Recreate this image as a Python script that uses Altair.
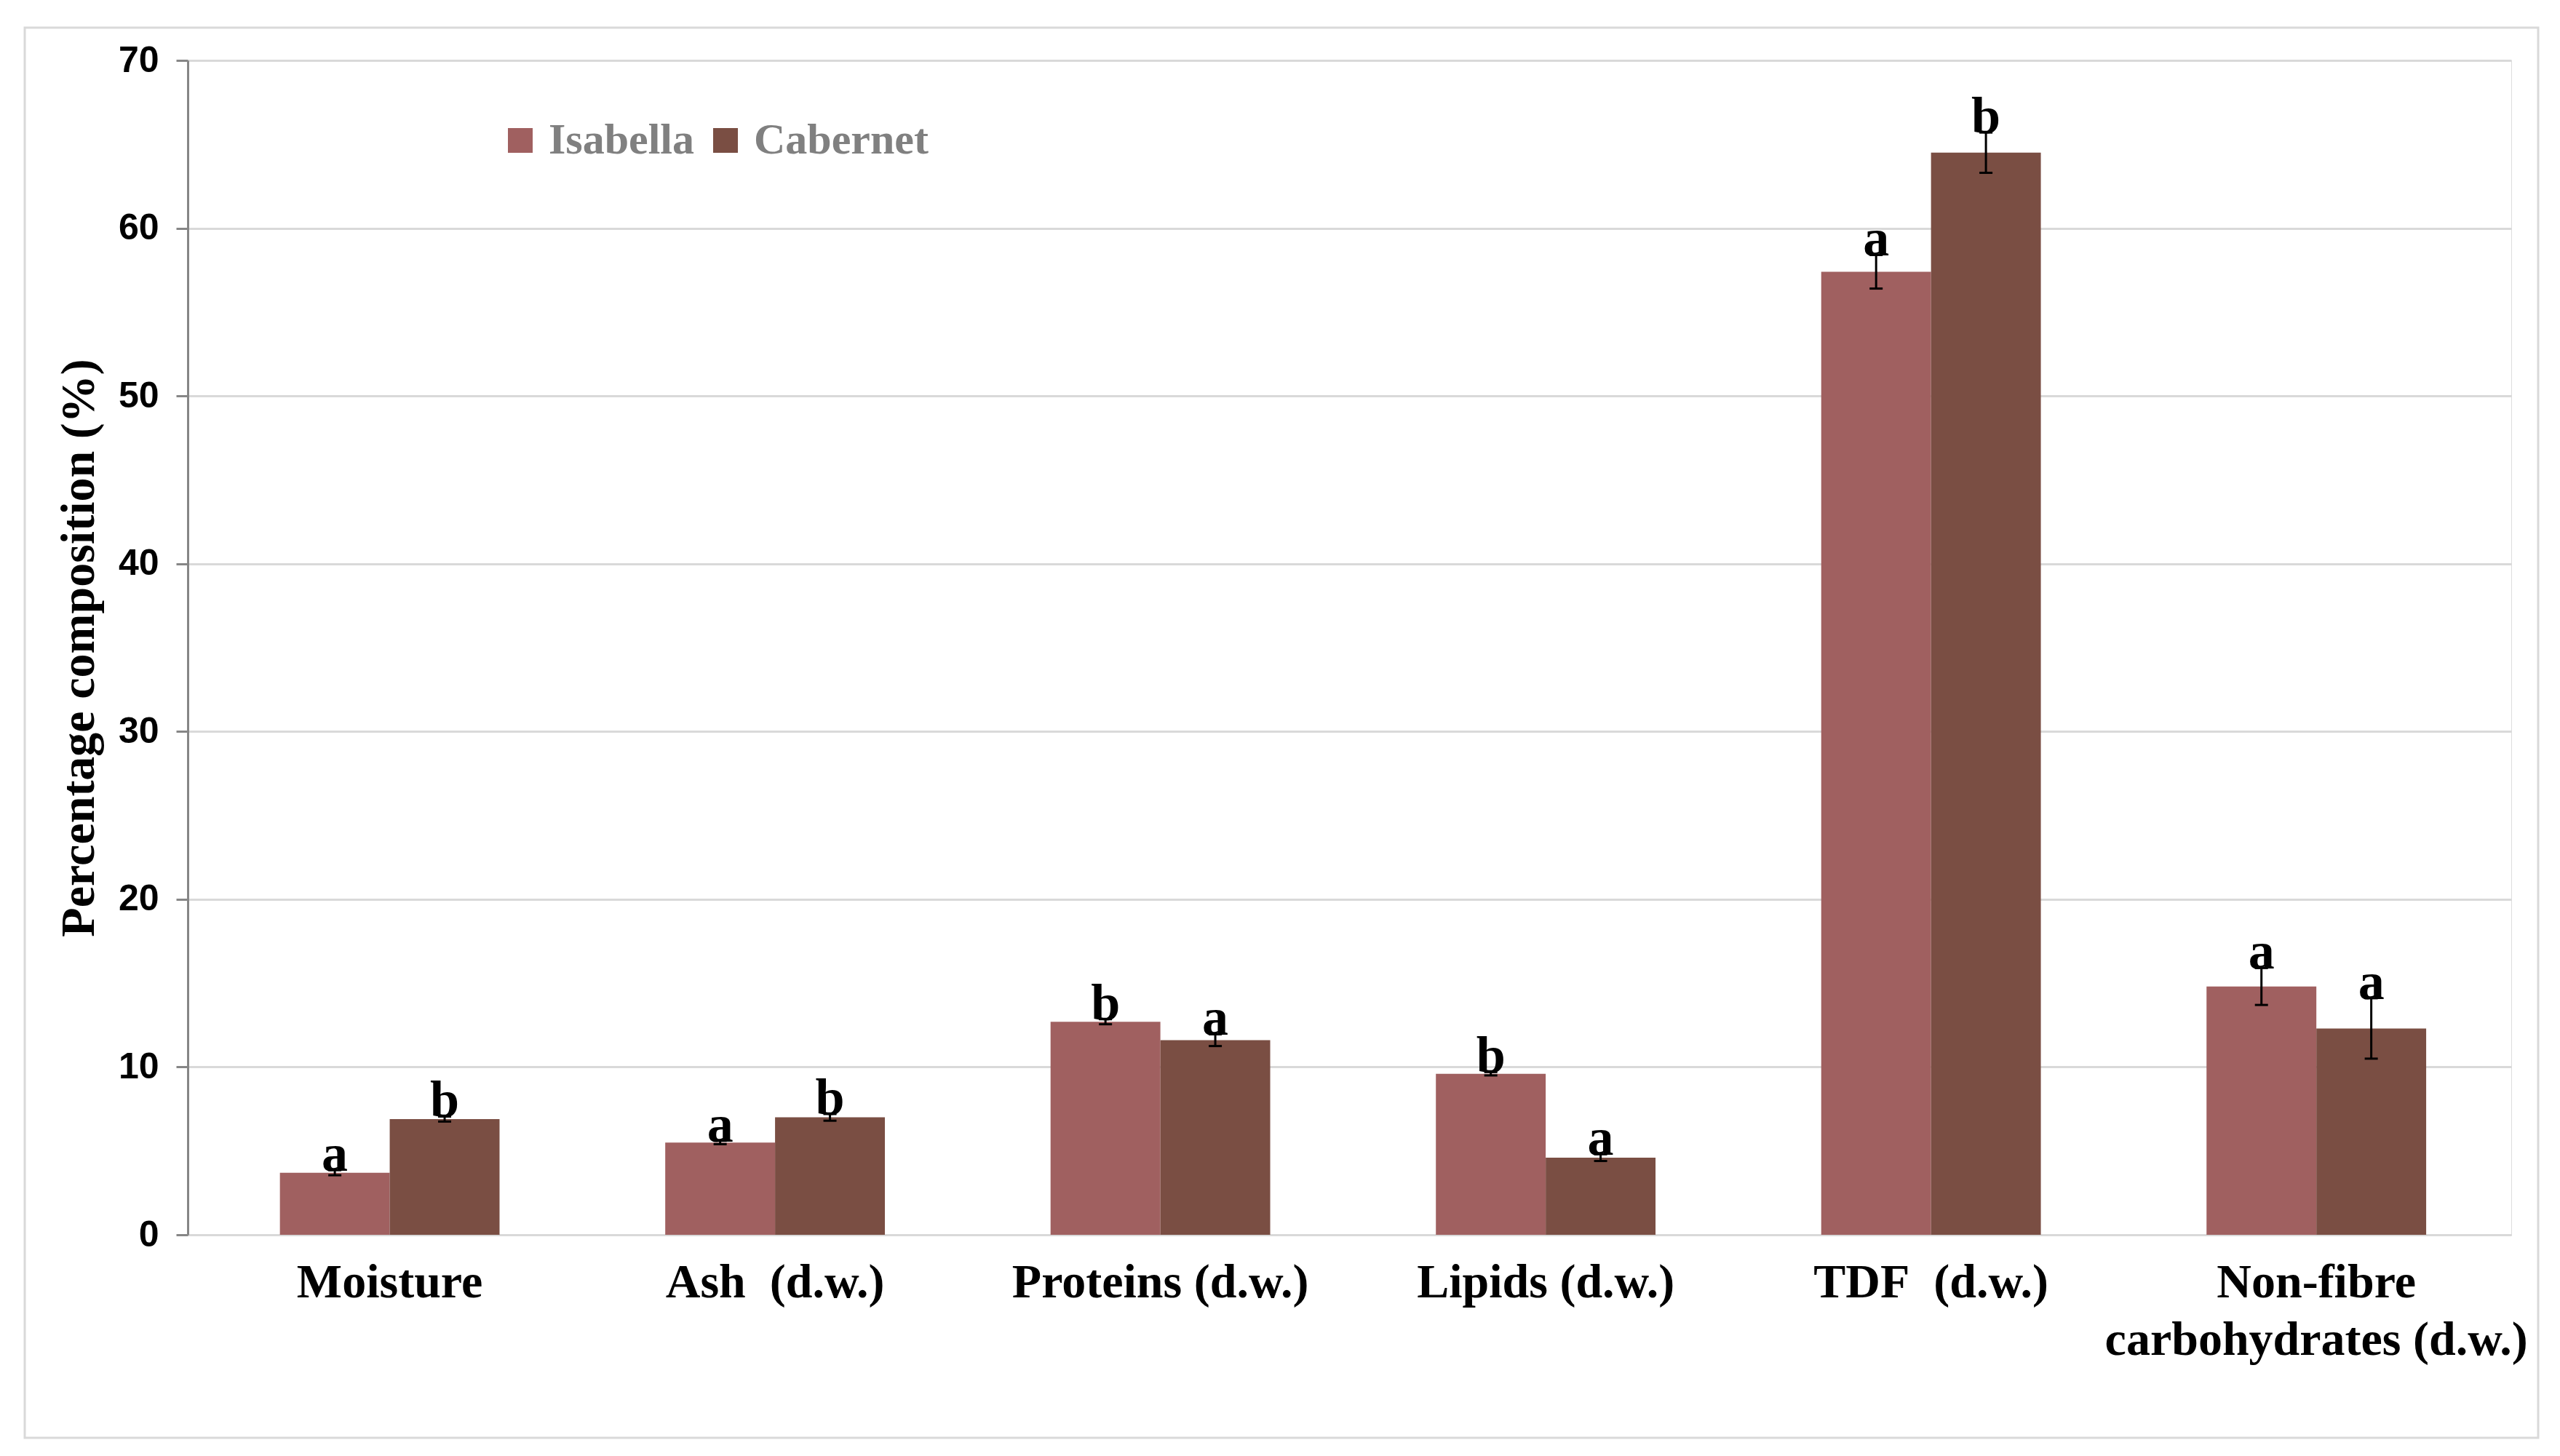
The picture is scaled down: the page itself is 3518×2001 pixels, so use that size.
import altair as alt
import pandas as pd

categories = ["Moisture", "Ash\u00a0 (d.w.)", "Proteins (d.w.)", "Lipids (d.w.)",
              "TDF\u00a0 (d.w.)", "Non-fibre|carbohydrates (d.w.)"]
varieties = ["Isabella", "Cabernet"]
isabella = [3.7, 5.5, 12.7, 9.6, 57.4, 14.8]
cabernet = [6.9, 7.0, 11.6, 4.6, 64.5, 12.3]
isabella_err = [0.15, 0.1, 0.15, 0.1, 1.0, 1.1]
cabernet_err = [0.15, 0.2, 0.35, 0.2, 1.2, 1.8]
isabella_letters = ["a", "a", "b", "b", "a", "a"]
cabernet_letters = ["b", "b", "a", "a", "b", "a"]
colors = ["#A06060", "#7A4E43"]

rows = []
for var, vals, errs, lets in [("Isabella", isabella, isabella_err, isabella_letters),
                              ("Cabernet", cabernet, cabernet_err, cabernet_letters)]:
    for c, v, e, l in zip(categories, vals, errs, lets):
        rows.append({"category": c, "variety": var, "value": v,
                     "lo": v - e, "hi": v + e, "letter": l})
df = pd.DataFrame(rows)

SERIF = "Liberation Serif, Times New Roman, serif"
SANS = "Liberation Sans, Arial, sans-serif"
W, H = 3193, 1614
YTITLE = "Percentage composition (%)"

xaxis = alt.Axis(labelAngle=0, domainColor="#d9d9d9", domainWidth=3, ticks=False,
                 labelFont=SERIF, labelFontWeight="bold", labelFontSize=66,
                 labelColor="#000000", labelPadding=33, labelLimit=2000,
                 labelLineHeight=79, labelExpr="split(datum.label, '|')",
                 title=None, grid=False)
xscale = alt.Scale(paddingInner=0.43, paddingOuter=0.23, align=0.52)
yaxis = alt.Axis(values=[0, 10, 20, 30, 40, 50, 60, 70], domainColor="#868686",
                 domainWidth=3, tickColor="#868686", tickSize=16, tickWidth=3,
                 gridColor="#d9d9d9", gridWidth=3, labelFont=SANS,
                 labelFontWeight="bold", labelFontSize=50, labelColor="#000000",
                 labelPadding=24, titleFont=SERIF, titleFontWeight="bold",
                 titleFontSize=66, titleColor="#000000", titleX=-150, titleY=H / 2,
                 titleAngle=270, titleAlign="center", titleBaseline="middle")
yscale = alt.Scale(domain=[0, 70], nice=False)


def X():
    return alt.X("category:N", sort=categories, scale=xscale, axis=xaxis)


def XO():
    return alt.XOffset("variety:N", sort=varieties,
                       scale=alt.Scale(paddingInner=0, paddingOuter=0))


base = alt.Chart(df)

bars = base.mark_bar(strokeWidth=0).encode(
    x=X(), xOffset=XO(),
    y=alt.Y("value:Q", scale=yscale, axis=yaxis, title=YTITLE),
    color=alt.Color("variety:N", sort=varieties,
                    scale=alt.Scale(domain=varieties, range=colors),
                    legend=alt.Legend(title=None, orient="none", legendX=427, legendY=80,
                                      direction="horizontal", symbolType="square",
                                      symbolSize=1156, symbolStrokeWidth=0,
                                      labelFont=SERIF, labelFontWeight="bold",
                                      labelFontSize=60, labelColor="#808080",
                                      labelLimit=1000, labelOffset=9,
                                      columnPadding=12)),
)

rules = base.mark_rule(color="#000000", strokeWidth=3).encode(
    x=X(), xOffset=XO(),
    y=alt.Y("lo:Q", scale=yscale, axis=yaxis, title=YTITLE),
    y2="hi:Q",
)

caps_lo = base.mark_tick(color="#000000", thickness=3, size=18, opacity=1).encode(
    x=X(), xOffset=XO(),
    y=alt.Y("lo:Q", scale=yscale, axis=yaxis, title=YTITLE),
)
caps_hi = base.mark_tick(color="#000000", thickness=3, size=18, opacity=1).encode(
    x=X(), xOffset=XO(),
    y=alt.Y("hi:Q", scale=yscale, axis=yaxis, title=YTITLE),
)

letters = base.mark_text(font=SERIF, fontWeight="bold", fontSize=72, color="#000000",
                         baseline="alphabetic", align="center", dy=1).encode(
    x=X(), xOffset=XO(),
    y=alt.Y("hi:Q", scale=yscale, axis=yaxis, title=YTITLE),
    text="letter:N",
)

border = alt.Chart(pd.DataFrame({"k": [0]})).mark_rect(
    fillOpacity=0, stroke="#d9d9d9", strokeWidth=3).encode(
    x=alt.value(-224), x2=alt.value(3230), y=alt.value(-45), y2=alt.value(1893))

chart = alt.layer(border, bars, rules, caps_lo, caps_hi, letters).properties(
    width=W, height=H,
    autosize=alt.AutoSizeParams(type="none"),
    padding={"left": 250, "top": 75, "right": 45, "bottom": 290},
).configure_view(strokeWidth=0).configure(background="#ffffff")

chart.save("out.html", embed_options={"renderer": "svg", "actions": False})
